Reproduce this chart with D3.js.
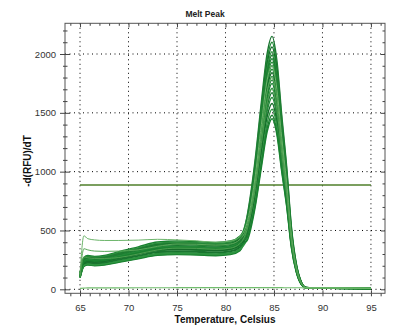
<!DOCTYPE html>
<html>
<head>
<meta charset="utf-8">
<script src="https://cdn.jsdelivr.net/npm/d3@7"></script>
<style>
  html, body { margin: 0; padding: 0; background: #fff; }
  svg { display: block; }
  text { font-family: "Liberation Sans", Arial, sans-serif; }
</style>
</head>
<body>
<svg id="chart" width="397" height="325"></svg>
<script>
// ---------------- DATA ----------------
const chartTitle = "Melt Peak";
const xTitle = "Temperature, Celsius";
const yTitle = "-d(RFU)/dT";

const xTicks = [65, 70, 75, 80, 85, 90, 95];
const yTicks = [0, 500, 1000, 1500, 2000];

const temps = [65, 65.4, 65.8, 66.5, 67.5, 69, 71, 73, 75, 77, 79, 80.5, 81.5, 82.2,
               83, 83.7, 84.3, 84.8, 85.3, 85.8, 86.3, 86.8, 87.3, 87.8, 88.3, 89, 91, 95];

const wellCurves = [
  [119,238,252,245,252,281,317,353,360,356,349,360,405,610,1060,1590,2005,2150,1945,1480,1050,530,220,66,15,10,9,7],
  [130,261,277,269,277,308,348,387,395,391,383,395,445,600,1030,1550,1960,2100,1900,1445,1025,515,214,64,14,11,9,8],
  [106,211,224,218,224,250,282,314,320,317,310,320,356,563,989,1504,1916,2060,1854,1401,989,494,206,62,13,10,8,7],
  [125,251,266,258,266,296,334,372,380,376,369,380,420,562,970,1475,1879,2020,1818,1374,970,485,202,61,15,11,9,7],
  [99,198,210,204,210,234,264,294,300,297,291,300,334,543,955,1453,1851,1990,1791,1353,955,478,199,60,14,10,9,6],
  [135,271,287,279,287,320,361,402,410,406,398,410,453,552,941,1431,1823,1960,1764,1333,941,470,196,59,15,11,9,8],
  [114,228,242,235,242,269,304,338,345,342,335,345,383,535,926,1409,1795,1930,1737,1312,926,463,193,58,13,10,8,7],
  [122,244,259,252,259,289,326,363,370,366,359,370,410,531,912,1387,1767,1900,1710,1292,912,456,190,57,14,10,9,7],
  [102,205,217,211,217,242,273,304,310,307,301,310,345,515,898,1365,1739,1870,1683,1272,898,449,187,56,13,10,8,6],
  [129,257,273,265,273,304,343,382,390,386,378,390,431,519,883,1343,1711,1840,1656,1251,883,442,184,55,15,11,9,7],
  [111,221,235,228,235,261,295,328,335,332,325,335,372,503,869,1321,1683,1810,1629,1231,869,434,181,54,14,10,8,7],
  [117,234,249,241,249,277,312,348,355,351,344,355,393,498,854,1299,1655,1780,1602,1210,854,427,178,53,13,10,9,7],
  [97,195,207,201,207,230,260,289,295,292,286,295,329,482,840,1278,1628,1750,1575,1190,840,420,175,53,12,9,8,6],
  [132,264,280,272,280,312,352,392,400,396,388,400,442,488,821,1248,1590,1710,1539,1163,821,410,171,51,15,11,9,8],
  [107,215,228,221,228,254,286,319,325,322,315,325,361,467,802,1219,1553,1670,1503,1136,802,401,167,50,13,10,8,7],
  [120,241,256,248,256,285,321,358,365,361,354,365,404,463,782,1190,1516,1630,1467,1108,782,391,163,49,14,10,9,7],
  [112,224,238,231,238,265,299,333,340,337,330,340,377,446,758,1153,1469,1580,1422,1074,758,379,158,47,13,10,8,6],
  [101,201,214,207,214,238,268,299,305,302,296,305,339,425,715,1100,1415,1530,1385,1060,750,372,155,46,12,9,8,6],
  [127,254,270,262,270,300,339,377,385,381,373,385,405,440,690,1060,1370,1480,1340,1020,722,360,150,44,14,10,9,7],
  [116,231,245,238,245,273,308,343,350,347,340,350,380,410,670,1035,1340,1450,1315,1000,710,352,147,44,13,10,8,7]
];

const outlierCurves = [
  [130,455,430,420,415,415,418,425,420,412,400,410,450,560,920,1400,1780,1900,1700,1290,910,455,190,57,15,11,9,8],
  [120,345,335,325,322,325,335,365,385,383,376,385,425,530,870,1320,1680,1800,1620,1225,865,432,180,54,14,10,9,7],
  [110,275,268,262,262,270,300,335,350,348,340,350,390,500,820,1240,1580,1700,1530,1156,816,408,170,51,13,10,8,7]
];

const ntcCurve = [8,10,12,12,12,12,13,13,14,14,14,14,14,14,14,14,14,14,14,14,13,13,13,13,12,12,12,10];

const thresholdValue = 886;
const thresholdRange = [65, 95];

const wellColors = ["#1a7530", "#238a38", "#156b29", "#2e9440", "#1f7d32", "#198230", "#2a8d3c"];
const outlierColors = ["#6db56b", "#5aa85a", "#4e9e50"];

// ---------------- LAYOUT ----------------
const svg = d3.select("#chart");
const plot = { left: 65, right: 385, top: 23.3, bottom: 293.3 };

const x = d3.scaleLinear().domain([63.45, 96.45]).range([plot.left, plot.right]);
const y = d3.scaleLinear().domain([-34, 2261]).range([plot.bottom, plot.top]);

const xMinor = d3.range(64, 97, 1).filter(v => !xTicks.includes(v));
const yMinor = d3.range(0, 2300, 100).filter(v => !yTicks.includes(v));

// Grid (dotted)
const grid = svg.append("g");
grid.selectAll("line.gx").data(xTicks).join("line")
  .attr("x1", d => x(d)).attr("x2", d => x(d))
  .attr("y1", plot.top).attr("y2", plot.bottom)
  .attr("stroke", "#000").attr("stroke-width", 1)
  .attr("stroke-dasharray", "1,3.5");
grid.selectAll("line.gy").data(yTicks).join("line")
  .attr("x1", plot.left).attr("x2", plot.right)
  .attr("y1", d => y(d)).attr("y2", d => y(d))
  .attr("stroke", "#000").attr("stroke-width", 1)
  .attr("stroke-dasharray", "1,3.5");

// Threshold line
svg.append("line")
  .attr("x1", x(thresholdRange[0])).attr("x2", x(thresholdRange[1]))
  .attr("y1", y(thresholdValue)).attr("y2", y(thresholdValue))
  .attr("stroke", "#4f7f2a").attr("stroke-width", 1.5);

// Curves
const line = d3.line()
  .x((d, i) => x(temps[i]))
  .y(d => y(d))
  .curve(d3.curveMonotoneX);

const curvesG = svg.append("g").attr("fill", "none");
curvesG.selectAll("path.well").data(wellCurves).join("path")
  .attr("d", line)
  .attr("stroke", (d, i) => wellColors[i % wellColors.length])
  .attr("stroke-width", 1.45);
curvesG.selectAll("path.out").data(outlierCurves).join("path")
  .attr("d", line)
  .attr("stroke", (d, i) => outlierColors[i % outlierColors.length])
  .attr("stroke-width", 1);
curvesG.append("path")
  .datum(ntcCurve)
  .attr("d", line)
  .attr("stroke", "#72bd6e")
  .attr("stroke-width", 1.1);

// Frame
svg.append("rect")
  .attr("x", plot.left).attr("y", plot.top)
  .attr("width", plot.right - plot.left).attr("height", plot.bottom - plot.top)
  .attr("fill", "none").attr("stroke", "#555").attr("stroke-width", 1);

function styleAxis(g) {
  g.select(".domain").remove();
  g.selectAll(".tick line").attr("stroke", "#444");
  g.selectAll(".tick text").attr("fill", "#333").style("font-size", "9.5px")
    .style("font-family", '"Liberation Sans", Arial, sans-serif');
}

// Bottom axis
svg.append("g").attr("transform", `translate(0,${plot.bottom})`)
  .call(d3.axisBottom(x).tickValues(xTicks).tickSize(3).tickPadding(8).tickFormat(d3.format("d")))
  .call(styleAxis);
svg.append("g").attr("transform", `translate(0,${plot.bottom})`)
  .call(d3.axisTop(x).tickValues(xTicks).tickSize(3).tickFormat(""))
  .call(styleAxis);
svg.append("g").attr("transform", `translate(0,${plot.bottom})`)
  .call(d3.axisBottom(x).tickValues(xMinor).tickSize(3).tickFormat(""))
  .call(styleAxis);

// Top axis (inward ticks)
svg.append("g").attr("transform", `translate(0,${plot.top})`)
  .call(d3.axisBottom(x).tickValues(xTicks).tickSize(4).tickFormat(""))
  .call(styleAxis);
svg.append("g").attr("transform", `translate(0,${plot.top})`)
  .call(d3.axisBottom(x).tickValues(xMinor).tickSize(2.5).tickFormat(""))
  .call(styleAxis);

// Left axis
svg.append("g").attr("transform", `translate(${plot.left},0)`)
  .call(d3.axisLeft(y).tickValues(yTicks).tickSize(5).tickPadding(4).tickFormat(d3.format("d")))
  .call(styleAxis);
svg.append("g").attr("transform", `translate(${plot.left},0)`)
  .call(d3.axisRight(y).tickValues(yTicks).tickSize(5).tickFormat(""))
  .call(styleAxis);
svg.append("g").attr("transform", `translate(${plot.left},0)`)
  .call(d3.axisLeft(y).tickValues(yMinor).tickSize(2).tickFormat(""))
  .call(styleAxis);
svg.append("g").attr("transform", `translate(${plot.left},0)`)
  .call(d3.axisRight(y).tickValues(yMinor).tickSize(2.5).tickFormat(""))
  .call(styleAxis);

// Right axis (inward ticks)
svg.append("g").attr("transform", `translate(${plot.right},0)`)
  .call(d3.axisLeft(y).tickValues(yTicks).tickSize(4).tickFormat(""))
  .call(styleAxis);
svg.append("g").attr("transform", `translate(${plot.right},0)`)
  .call(d3.axisLeft(y).tickValues(yMinor).tickSize(2.5).tickFormat(""))
  .call(styleAxis);

// Titles
svg.append("text")
  .attr("x", 205).attr("y", 16.5)
  .attr("text-anchor", "middle")
  .style("font-size", "8.5px").style("font-weight", "bold").attr("fill", "#222")
  .text(chartTitle);

svg.append("text")
  .attr("x", (plot.left + plot.right) / 2).attr("y", 322.5)
  .attr("text-anchor", "middle")
  .style("font-size", "10px").style("font-weight", "bold").attr("fill", "#111")
  .text(xTitle);

svg.append("text")
  .attr("transform", `translate(30.5,${161}) rotate(-90)`)
  .attr("text-anchor", "middle")
  .style("font-size", "10px").style("font-weight", "bold").attr("fill", "#111")
  .text(yTitle);
</script>
</body>
</html>
